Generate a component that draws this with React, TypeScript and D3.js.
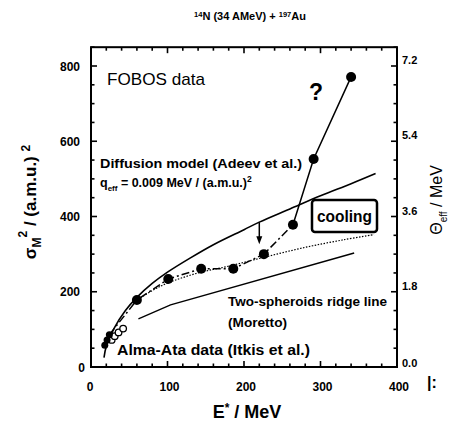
import React from 'react';
import * as d3 from 'd3';

// ---- data ----
const xTickValues = [0, 100, 200, 300, 400];
const yTickValues = [0, 200, 400, 600, 800];
const thetaTickLabels = ['0.0', '1.8', '3.6', '5.4', '7.2'];

const fobosE = [60, 101, 144, 186, 226, 264, 291, 340];
const fobosSigma = [178, 234, 261, 261, 300, 378, 553, 771];

const almaFilledE = [18, 21, 24];
const almaFilledSigma = [58, 72, 86];
const almaOpenE = [27, 31, 36, 42];
const almaOpenSigma = [72, 82, 92, 102];

const diffusionE = [17, 20, 30, 45, 60, 80, 100, 130, 160, 200, 220, 260, 300, 340, 372];
const diffusionSigma = [25, 55, 102, 150, 185, 222, 252, 290, 325, 365, 385, 420, 455, 487, 514];

const dottedE = [58, 80, 100, 140, 180, 227, 280, 330, 370];
const dottedSigma = [175, 203, 223, 250, 268, 292, 318, 338, 352];

const ridgeE = [62, 104, 344];
const ridgeSigma = [128, 165, 303];

const arrowE = 220;
const arrowSigma = [385, 326];

const FONT = '"Liberation Sans", Arial, Helvetica, sans-serif';

export default function App() {
  const W = 452;
  const H = 421;
  const x = d3.scaleLinear().domain([0, 400]).range([91, 397]);
  const y = d3.scaleLinear().domain([0, 800]).range([367, 66]);
  const yTop = y(850);

  const smooth = d3
    .line<[number, number]>()
    .x((d) => x(d[0]))
    .y((d) => y(d[1]))
    .curve(d3.curveCatmullRom.alpha(0.5));
  const straight = d3
    .line<[number, number]>()
    .x((d) => x(d[0]))
    .y((d) => y(d[1]));

  const diff = diffusionE.map((e, i) => [e, diffusionSigma[i]] as [number, number]);
  const dotted = dottedE.map((e, i) => [e, dottedSigma[i]] as [number, number]);
  const ridge = ridgeE.map((e, i) => [e, ridgeSigma[i]] as [number, number]);
  const fobos = fobosE.map((e, i) => [e, fobosSigma[i]] as [number, number]);

  const dashedPart: [number, number][] = [
    [almaFilledE[2], almaFilledSigma[2]],
    ...fobos.slice(0, 6),
  ];
  const solidPart = fobos.slice(5);

  const xMinor = d3.range(0, 401, 20);
  const yMinor = d3.range(0, 851, 50);

  const ax0 = x(0);
  const ax1 = x(400);

  const ah = y(arrowSigma[1]);
  const axp = x(arrowE);

  return (
    <svg
      width={W}
      height={H}
      style={{ position: 'absolute', left: 0, top: 0, background: '#fff' }}
      fontFamily={FONT}
    >
      <rect x={0} y={0} width={W} height={H} fill="#fff" />
      {/* title */}
      <text x={250} y={20} textAnchor="middle" fontSize={11} fontWeight="bold">
        <tspan fontSize={7.5} dy={-3.5}>14</tspan>
        <tspan dy={3.5}>N (34 AMeV) + </tspan>
        <tspan fontSize={7.5} dy={-3.5}>197</tspan>
        <tspan dy={3.5}>Au</tspan>
      </text>

      {/* frame */}
      <rect x={ax0} y={yTop} width={ax1 - ax0} height={y(0) - yTop} fill="none" stroke="#000" strokeWidth={2} />

      {/* x ticks bottom + top */}
      {xMinor.map((v) => {
        const major = v % 100 === 0;
        const len = major ? 6 : 3.5;
        return (
          <g key={'xt' + v}>
            <line x1={x(v)} x2={x(v)} y1={y(0)} y2={y(0) - len} stroke="#000" strokeWidth={1.6} />
            <line x1={x(v)} x2={x(v)} y1={yTop} y2={yTop + len} stroke="#000" strokeWidth={1.6} />
          </g>
        );
      })}
      {/* y ticks left + right */}
      {yMinor.map((v) => {
        const major = v % 200 === 0;
        const len = major ? 6 : 3.5;
        return (
          <g key={'yt' + v}>
            <line x1={ax0} x2={ax0 + len} y1={y(v)} y2={y(v)} stroke="#000" strokeWidth={1.6} />
            <line x1={ax1} x2={ax1 - len} y1={y(v)} y2={y(v)} stroke="#000" strokeWidth={1.6} />
          </g>
        );
      })}

      {/* tick labels */}
      {xTickValues.map((v) => (
        <text key={'xl' + v} x={x(v) + (v === 0 ? -1 : 2)} y={391} textAnchor="middle" fontSize={12} fontWeight="bold">
          {v}
        </text>
      ))}
      {yTickValues.map((v) => (
        <text key={'yl' + v} x={v === 0 ? 85 : 80} y={y(v) + 4.5} textAnchor="end" fontSize={12} fontWeight="bold">
          {v}
        </text>
      ))}
      {yTickValues.map((v, i) => (
        <text key={'rl' + v} x={ax1 + 5} y={y(v) + (i === 0 ? 0 : -2)} textAnchor="start" fontSize={11} fontWeight="bold">
          {thetaTickLabels[i]}
        </text>
      ))}

      {/* axis titles */}
      <text
        transform="translate(36,202) rotate(-90)"
        textAnchor="middle"
        fontSize={17}
        fontWeight="bold"
      >
        <tspan>σ</tspan>
        <tspan fontSize={12} dy={5}>M</tspan>
        <tspan fontSize={12} dy={-14}>2</tspan>
        <tspan dy={9}> / (a.m.u.) </tspan>
        <tspan fontSize={12} dy={-6}>2</tspan>
      </text>
      <text transform="translate(442,200) rotate(-90)" textAnchor="middle" fontSize={16}>
        <tspan>Θ</tspan>
        <tspan fontSize={10} dy={5}>eff</tspan>
        <tspan dy={-5}> / MeV</tspan>
      </text>
      <text x={247} y={418} textAnchor="middle" fontSize={18} fontWeight="bold">
        <tspan>E</tspan>
        <tspan fontSize={12} dy={-6}>*</tspan>
        <tspan dy={6}>  /  MeV</tspan>
      </text>

      {/* curves */}
      <path d={smooth(diff) || ''} fill="none" stroke="#000" strokeWidth={1.6} />
      <path d={smooth(dotted) || ''} fill="none" stroke="#000" strokeWidth={1.2} strokeDasharray="1.5,1.5" />
      <path d={straight(ridge) || ''} fill="none" stroke="#000" strokeWidth={1.4} />
      <path d={straight(dashedPart) || ''} fill="none" stroke="#000" strokeWidth={1.5} strokeDasharray="8,3,2,3" />
      <path d={straight(solidPart) || ''} fill="none" stroke="#000" strokeWidth={1.5} />

      {/* arrow */}
      <line x1={axp} x2={axp} y1={y(arrowSigma[0])} y2={ah - 6} stroke="#000" strokeWidth={1.5} />
      <path d={`M${axp - 3},${ah - 8} L${axp + 3},${ah - 8} L${axp},${ah} Z`} fill="#000" />

      {/* points */}
      {almaOpenE.map((e, i) => (
        <circle key={'ao' + i} cx={x(e)} cy={y(almaOpenSigma[i])} r={3.3} fill="#fff" stroke="#000" strokeWidth={1.3} />
      ))}
      {almaFilledE.map((e, i) => (
        <circle key={'af' + i} cx={x(e)} cy={y(almaFilledSigma[i])} r={3.5} fill="#000" />
      ))}
      {fobos.map((d, i) => (
        <circle key={'f' + i} cx={x(d[0])} cy={y(d[1])} r={5} fill="#000" />
      ))}

      {/* annotations */}
      <text x={107} y={85} fontSize={17} textLength={98} lengthAdjust="spacingAndGlyphs">FOBOS data</text>
      <text x={309} y={100} fontSize={23} fontWeight="bold">?</text>
      <text x={100} y={168} fontSize={12.5} fontWeight="bold" textLength={202} lengthAdjust="spacingAndGlyphs">
        Diffusion model (Adeev et al.)
      </text>
      <text x={100} y={187} fontSize={12.5} fontWeight="bold">
        <tspan>q</tspan>
        <tspan fontSize={8} dy={4}>eff</tspan>
        <tspan dy={-4}> = 0.009 MeV / (a.m.u.)</tspan>
        <tspan fontSize={8.5} dy={-5}>2</tspan>
      </text>
      <rect x={312} y={200} width={65} height={32} rx={3} fill="#fff" stroke="#000" strokeWidth={2.5} />
      <text x={344.5} y={222} fontSize={16} textAnchor="middle" fontWeight="bold" textLength={55} lengthAdjust="spacingAndGlyphs">
        cooling
      </text>
      <text x={228} y={306} fontSize={12.5} fontWeight="bold" textLength={159} lengthAdjust="spacingAndGlyphs">
        Two-spheroids ridge line
      </text>
      <text x={228} y={327} fontSize={12.5} fontWeight="bold" textLength={59} lengthAdjust="spacingAndGlyphs">
        (Moretto)
      </text>
      <text x={117} y={355} fontSize={14.5} textLength={193} lengthAdjust="spacingAndGlyphs" fontWeight="bold">
        Alma-Ata data (Itkis et al.)
      </text>
      <text x={427} y={388} fontSize={16} fontWeight="bold">|:</text>
    </svg>
  );
}
